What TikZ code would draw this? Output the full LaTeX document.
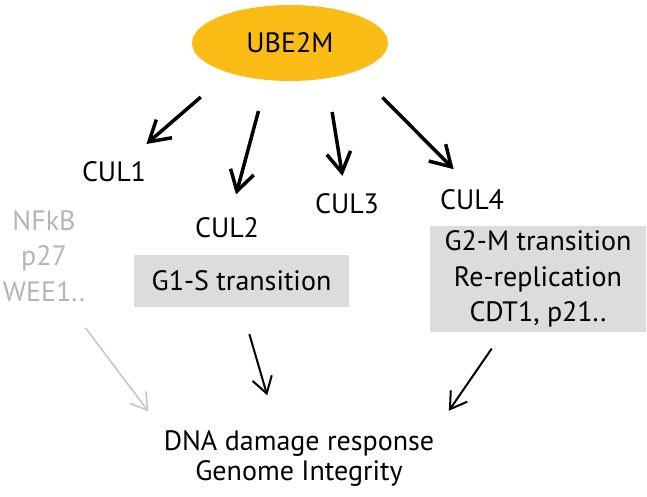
\documentclass[tikz,border=0pt]{standalone}
\usepackage{fontspec}
\setmainfont{PT Sans}
\usetikzlibrary{arrows.meta,shapes.geometric}

\definecolor{ubeyellow}{HTML}{FBBC15}
\definecolor{boxgray}{HTML}{DCDCDC}
\definecolor{fadegray}{HTML}{B5B5B5}
\definecolor{fadeline}{HTML}{C4C4C4}

\tikzset{
    lbl/.style={font=\fontsize{28}{35.5}\selectfont, inner sep=2pt, align=center},
    phase/.style={lbl, fill=boxgray},
    bigarrow/.style={line width=3.5pt, -{Straight Barb[length=20pt,width=24pt]}},
    smallarrow/.style={line width=2pt, -{Straight Barb[length=16pt,width=20pt]}},
}

\begin{document}
\begin{tikzpicture}[x=1pt, y=-1pt]
        \useasboundingbox (0,0) rectangle (647,496);

        % Nodes
        \node[ellipse, fill=ubeyellow, minimum width=196pt, minimum height=76pt, lbl] (ube) at (290,43) {UBE2M};
        \node[lbl] (cul1) at (114,172) {CUL1};
        \node[lbl] (cul2) at (227,228) {CUL2};
        \node[lbl] (cul3) at (347,204) {CUL3};
        \node[lbl] (cul4) at (472,200) {CUL4};
        \node[lbl, text=fadegray] (nfkb) at (44,256) {NFkB\\p27\\WEE1..};
        \node[phase, minimum width=215pt, minimum height=52pt] (g1s) at (241.5,281) {G1-S transition};
        \node[phase, minimum width=216pt, minimum height=106pt] (g2m) at (538,279) {G2-M transition\\Re-replication\\CDT1, p21..};
        \node[lbl, font=\fontsize{28}{30}\selectfont] (dna) at (299,459) {DNA damage response\\Genome Integrity};

        % Edges
        \draw[bigarrow, shorten <=37pt, shorten >=24pt] (ube.-154) to (cul1);
        \draw[bigarrow, shorten <=32pt, shorten >=22pt] (ube.-122) to (cul2);
        \draw[bigarrow, shorten <=34pt, shorten >=16pt] (ube.-44) to (cul3);
        \draw[bigarrow, shorten <=37pt, shorten >=26pt] (ube.-23) to (cul4.north);
        \draw[smallarrow, shorten <=28pt, shorten >=35pt] (g1s.south) to ([xshift=-22pt]dna.north);
        \draw[smallarrow, shorten <=20pt, shorten >=22pt] ([xshift=-35pt]g2m.south) to (dna.north east);
        \draw[smallarrow, line width=1.5pt, draw=fadeline, shorten <=30pt, shorten >=22pt] ([xshift=-20pt]nfkb.south east) to (dna.north west);
    \end{tikzpicture}
\end{document}
